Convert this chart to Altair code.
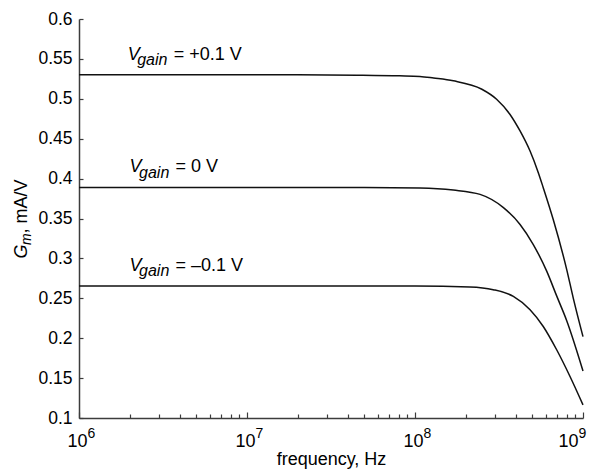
import altair as alt
import pandas as pd

FONT = "Liberation Sans"
AX = "#3c3c3c"

# ---- curve data (frequency in Hz, Gm in mA/V) ----
plus_freq = [1e6, 2e7, 4.5e7, 8.1e7, 1.07e8, 1.29e8, 1.69e8, 2.5e8, 3.06e8, 3.67e8,
             4.22e8, 4.84e8, 5.42e8, 5.8e8, 6.65e8, 8.0e8, 8.75e8, 1e9]
plus_gm = [0.530, 0.5300, 0.5296, 0.5288, 0.528, 0.526, 0.5225, 0.512, 0.4995, 0.4807,
           0.4597, 0.4345, 0.4074, 0.3886, 0.3487, 0.286, 0.2503, 0.202]

zero_freq = [1e6, 1e7, 5e7, 1.07e8, 1.69e8, 2.44e8, 3.36e8, 4.22e8, 5.06e8, 6.08e8,
             6.97e8, 8.0e8, 1e9]
zero_gm = [0.389, 0.389, 0.3888, 0.3882, 0.3856, 0.3802, 0.3636, 0.3425, 0.3174, 0.284,
           0.253, 0.222, 0.159]

minus_freq = [1e6, 1e8, 2.12e8, 2.92e8, 3.85e8, 4.84e8, 5.8e8, 6.97e8, 8.37e8, 1e9]
minus_gm = [0.2655, 0.2653, 0.2641, 0.2608, 0.2524, 0.2357, 0.2147, 0.1855, 0.152, 0.1164]

series_names = ["+0.1 V", "0 V", "-0.1 V"]

# ---- curve labels ----
label_freq = [1.95e6, 2.0e6, 2.0e6]
label_gm = [0.530, 0.389, 0.2655]
label_rest = ["= +0.1 V", "= 0 V", "= \u20130.1 V"]

# ---- axis values ----
decades = [1e6, 1e7, 1e8, 1e9]
minor_ticks = [k * 10 ** e for e in (6, 7, 8) for k in range(2, 10)]
y_values = [0.1, 0.15, 0.2, 0.25, 0.3, 0.35, 0.4, 0.45, 0.5, 0.55, 0.6]

# ---- y title anchor ----
ytitle_freq = [1e6]
ytitle_gm = [0.3]

rows = []
for name, fs, gs in zip(series_names, [plus_freq, zero_freq, minus_freq],
                        [plus_gm, zero_gm, minus_gm]):
    for f, g in zip(fs, gs):
        rows.append({"series": name, "freq": f, "gm": g})
curves = pd.DataFrame(rows)

W, H = 504, 399
xs = alt.Scale(type="log", domain=[1e6, 1e9], nice=False)
ys = alt.Scale(type="linear", domain=[0.1, 0.6], nice=False, zero=False)

LAST = "datum.value > 5e8"

lines = alt.Chart(curves).mark_line(
    color="#111", strokeWidth=1.5, interpolate="monotone"
).encode(
    x=alt.X("freq:Q", scale=xs, axis=alt.Axis(
        orient="bottom", values=decades, labelExpr="'10'",
        labelFont=FONT, labelFontSize=18, labelColor="#000",
        labelAlign="center", labelBaseline="top",
        labelOffset={"condition": {"test": LAST, "value": -15}, "value": -2},
        labelPadding=14,
        ticks=False, tickSize=0, domain=False, grid=False,
        labelFlush=False, labelOverlap=False,
        title="frequency, Hz", titleFont=FONT, titleFontSize=18,
        titleFontWeight="normal", titleColor="#000",
        titleBaseline="alphabetic", titleY=46)),
    y=alt.Y("gm:Q", scale=ys, axis=alt.Axis(
        orient="left", values=y_values, labelExpr="format(datum.value, '')",
        labelFont=FONT, labelFontSize=17.5, labelColor="#000", labelPadding=7,
        ticks=False, tickSize=0, domain=True, domainColor=AX, domainWidth=1.5,
        grid=False, title=None, labelFlush=False, labelOverlap=False)),
    detail="series:N",
)

exp_host = alt.Chart(curves).mark_point(opacity=0).encode(
    x=alt.X("freq:Q", scale=xs, axis=alt.Axis(
        orient="bottom", values=decades,
        labelExpr="format(round(log(datum.value) / LN10), 'd')",
        labelFont=FONT, labelFontSize=14, labelColor="#000",
        labelAlign="left", labelBaseline="top",
        labelOffset={"condition": {"test": LAST, "value": -5}, "value": 8},
        labelPadding=8,
        ticks=False, tickSize=0, domain=False, grid=False,
        labelFlush=False, labelOverlap=False, title=None)),
    y=alt.Y("gm:Q", scale=ys, axis=None),
)

minor_host = alt.Chart(curves).mark_point(opacity=0).encode(
    x=alt.X("freq:Q", scale=xs, axis=alt.Axis(
        orient="top", offset=-H, values=minor_ticks, labels=False,
        ticks=True, tickSize=4, tickColor=AX, tickWidth=1.2,
        domain=True, domainColor=AX, domainWidth=1.5, grid=False, title=None)),
    y=alt.Y("gm:Q", scale=ys, axis=alt.Axis(
        orient="right", offset=-W, values=y_values, labels=False,
        ticks=True, tickSize=4, tickColor=AX, tickWidth=1.2,
        domain=False, grid=False, title=None)),
)

major_host = alt.Chart(curves).mark_point(opacity=0).encode(
    x=alt.X("freq:Q", scale=xs, axis=alt.Axis(
        orient="top", offset=-H, values=decades, labels=False,
        ticks=True, tickSize=6, tickColor=AX, tickWidth=1.2,
        domain=False, grid=False, title=None)),
    y=alt.Y("gm:Q", scale=ys, axis=None),
)

ann = pd.DataFrame({"freq": label_freq, "gm": label_gm, "rest": label_rest})
ann_base = alt.Chart(ann).encode(
    x=alt.X("freq:Q", scale=xs, axis=None),
    y=alt.Y("gm:Q", scale=ys, axis=None),
)
ann_v = ann_base.mark_text(text="V", font=FONT, fontSize=18, fontStyle="italic",
                           align="left", baseline="alphabetic", dy=-15, color="#000")
ann_sub = ann_base.mark_text(text="gain", font=FONT, fontSize=16, fontStyle="italic",
                             align="left", baseline="alphabetic", dx=9.5, dy=-9.5, color="#000")
ann_rest = ann_base.mark_text(font=FONT, fontSize=18, align="left", baseline="alphabetic",
                              dx=46, dy=-15, color="#000").encode(text="rest:N")

yt = pd.DataFrame({"freq": ytitle_freq, "gm": ytitle_gm})
yt_base = alt.Chart(yt).encode(
    x=alt.X("freq:Q", scale=xs, axis=None),
    y=alt.Y("gm:Q", scale=ys, axis=None),
)
yt_g = yt_base.mark_text(text="G", font=FONT, fontSize=18, fontStyle="italic", angle=270,
                         align="left", baseline="alphabetic", dy=-52, color="#000")
yt_m = yt_base.mark_text(text="m", font=FONT, fontSize=14, fontStyle="italic", angle=270,
                         align="left", baseline="alphabetic", dx=13.5, dy=-48, color="#000")
yt_rest = yt_base.mark_text(text=", mA/V", font=FONT, fontSize=18, angle=270,
                            align="left", baseline="alphabetic", dx=25, dy=-52, color="#000")

chart = alt.layer(
    lines, exp_host, minor_host, major_host,
    ann_v, ann_sub, ann_rest, yt_g, yt_m, yt_rest,
).resolve_axis(
    x="independent", y="independent"
).properties(
    width=W, height=H,
    autosize=alt.AutoSizeParams(type="none"),
    padding={"left": 71, "top": 11, "right": 14, "bottom": 52},
    background="white",
).configure_view(stroke=None)

chart.save("out.html", embed_options={"renderer": "svg", "actions": False})
